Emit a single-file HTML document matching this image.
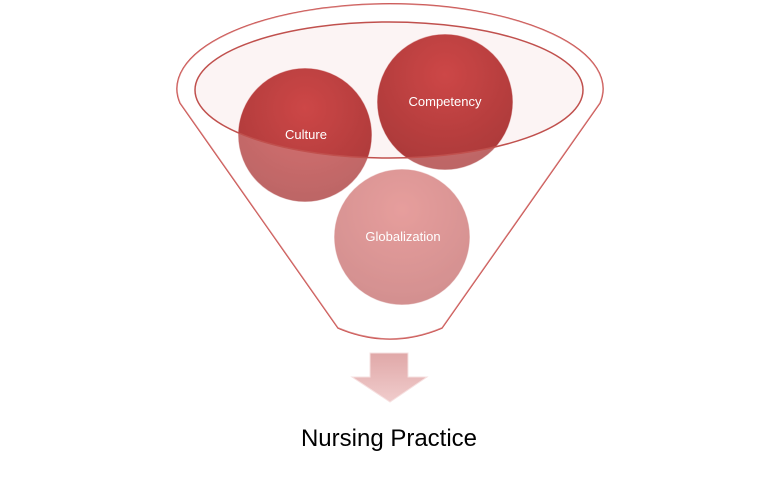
<!DOCTYPE html>
<html><head><style>body{margin:0;background:#fff}svg{display:block}</style></head><body>
<svg width="779" height="486" viewBox="0 0 779 486" xmlns="http://www.w3.org/2000/svg">
<defs>
<radialGradient id="g1" cx="50%" cy="30%" r="70%"><stop offset="0" stop-color="#c83434"/><stop offset="1" stop-color="#a02424"/></radialGradient>
<radialGradient id="g2" cx="50%" cy="30%" r="70%"><stop offset="0" stop-color="#dc7472"/><stop offset="1" stop-color="#c06060"/></radialGradient>
<linearGradient id="ar" x1="0" y1="0" x2="0" y2="1"><stop offset="0" stop-color="#e0a8a8"/><stop offset="1" stop-color="#f0cccc"/></linearGradient>
</defs>
<path d="M180,103 A213,85 0 1 1 600,103 L442,328 Q390,350 338,328 Z" fill="#fff" stroke="#c9504e" stroke-width="1.5"/>
<g stroke="#fff" stroke-width="1" stroke-opacity="0.6">
<circle cx="305" cy="135" r="67" fill="url(#g1)"/>
<circle cx="445" cy="102" r="68" fill="url(#g1)"/>
<circle cx="402" cy="237" r="68" fill="url(#g2)"/>
</g>
<path fill-rule="evenodd" fill="#fff" fill-opacity="0.3" d="M180,103 A213,85 0 1 1 600,103 L442,328 Q390,350 338,328 Z M195,90 A194,68 0 1 0 583,90 A194,68 0 1 0 195,90 Z"/>
<ellipse cx="389" cy="90" rx="194" ry="68" fill="#e8b8b8" fill-opacity="0.15" stroke="#c0504d" stroke-width="1.5"/>
<g font-family="Liberation Sans, sans-serif" fill="#fff" font-size="13" text-anchor="middle">
<text x="306" y="139">Culture</text>
<text x="445" y="106">Competency</text>
<text x="403" y="241">Globalization</text>
</g>
<path d="M370,353 L408,353 L408,377 L427,377 L390,402 L352,377 L370,377 Z" fill="url(#ar)" stroke="#f6e0e0" stroke-width="1"/>
<text x="389" y="446" font-family="Liberation Sans, sans-serif" font-size="24" text-anchor="middle" fill="#000">Nursing Practice</text>
</svg>
</body></html>
